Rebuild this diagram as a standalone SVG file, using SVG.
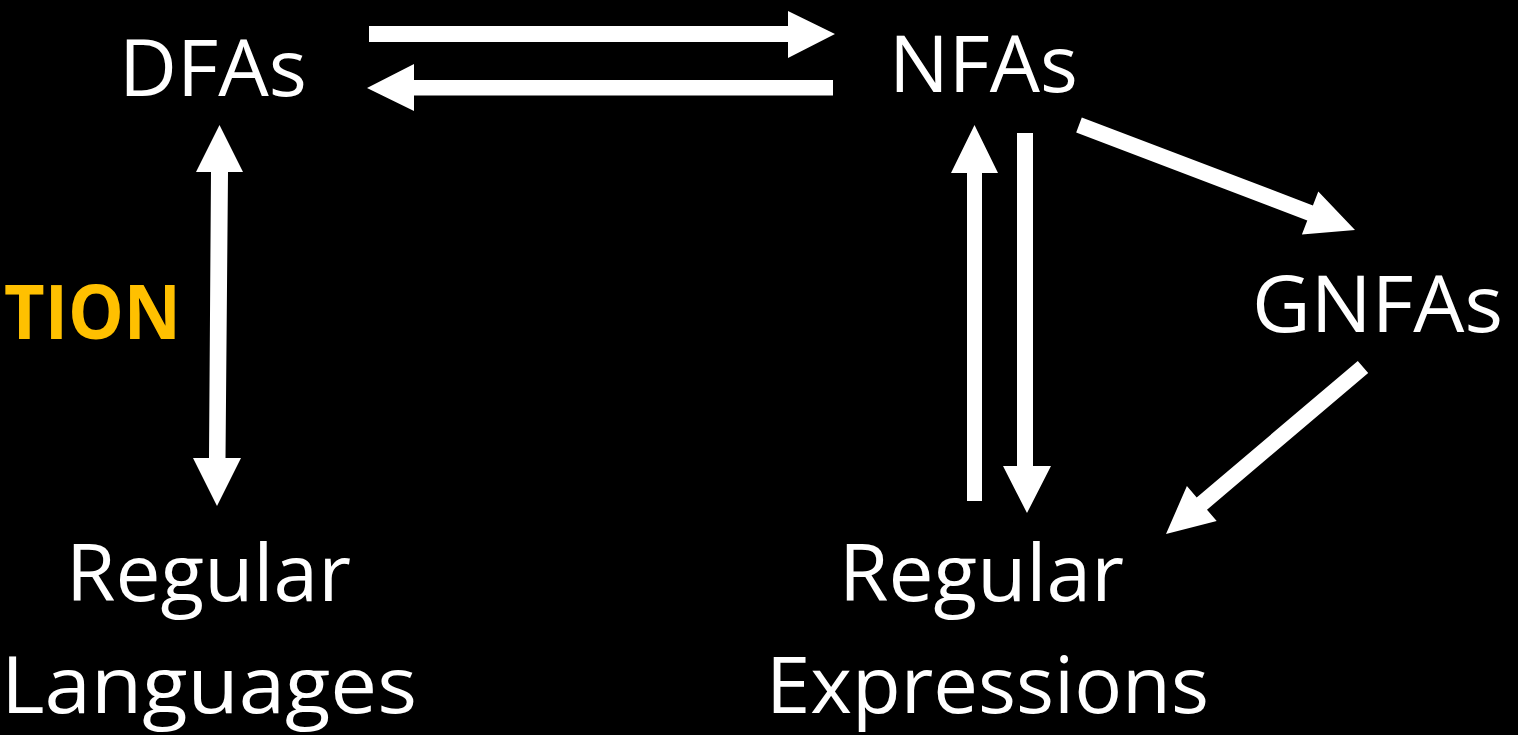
<svg xmlns="http://www.w3.org/2000/svg" width="1518" height="735" viewBox="0 0 1518 735">
<style>
.lbl{font-family:"Open Sans","Liberation Sans",sans-serif;font-size:78px;fill:#ffffff}
.tion{font-family:"Open Sans","Liberation Sans",sans-serif;font-size:76px;font-weight:bold;fill:#FFC000}
.arr{fill:#ffffff;stroke:none}
</style>
<rect x="0" y="0" width="1518" height="735" fill="#000000"/>
<g id="connectors">
<polygon class="arr" points="369,26 788,26 788,11 835,34 788,58 788,42 369,42"/>
<polygon class="arr" points="833,80 414,80 414,64 367,88 414,111 414,95.5 833,95.5"/>
<polygon class="arr" points="219.5,125 243,172 228,172 225.5,458 241,458 217,506 193,458 209,458 211,172 196,172"/>
<polygon class="arr" points="967,501 967,173 951,173 974.5,125 998,173 982,173 982,501"/>
<polygon class="arr" points="1017,133 1033,133 1033,466 1051,466 1027,513 1003,466 1017,466"/>
<polygon class="arr" points="1081.8,117.5 1312.9,205.4 1318.3,191.4 1355,230 1301.9,234.4 1307.3,220.4 1076.2,132.5"/>
<polygon class="arr" points="1357.8,360.9 1196.7,497.5 1186.9,486.1 1166,534 1216.7,521.1 1207,509.7 1368.2,373.1"/>
</g>
<g id="dfas"><text class="lbl" x="119" y="96" textLength="188" lengthAdjust="spacingAndGlyphs">DFAs</text></g>
<g id="nfas"><text class="lbl" x="889" y="92" textLength="189" lengthAdjust="spacingAndGlyphs">NFAs</text></g>
<g id="gnfas"><text class="lbl" x="1252" y="332" textLength="251" lengthAdjust="spacingAndGlyphs">GNFAs</text></g>
<g id="regular-languages">
<text class="lbl" x="66" y="601" textLength="285" lengthAdjust="spacingAndGlyphs">Regular</text>
<text class="lbl" x="1" y="713" textLength="416" lengthAdjust="spacingAndGlyphs">Languages</text>
</g>
<g id="regular-expressions">
<text class="lbl" x="839" y="601" textLength="285" lengthAdjust="spacingAndGlyphs">Regular</text>
<text class="lbl" x="766" y="713" textLength="443" lengthAdjust="spacingAndGlyphs">Expressions</text>
</g>
<g id="tion"><text class="tion" x="4" y="339" textLength="177" lengthAdjust="spacingAndGlyphs">TION</text></g>
</svg>
